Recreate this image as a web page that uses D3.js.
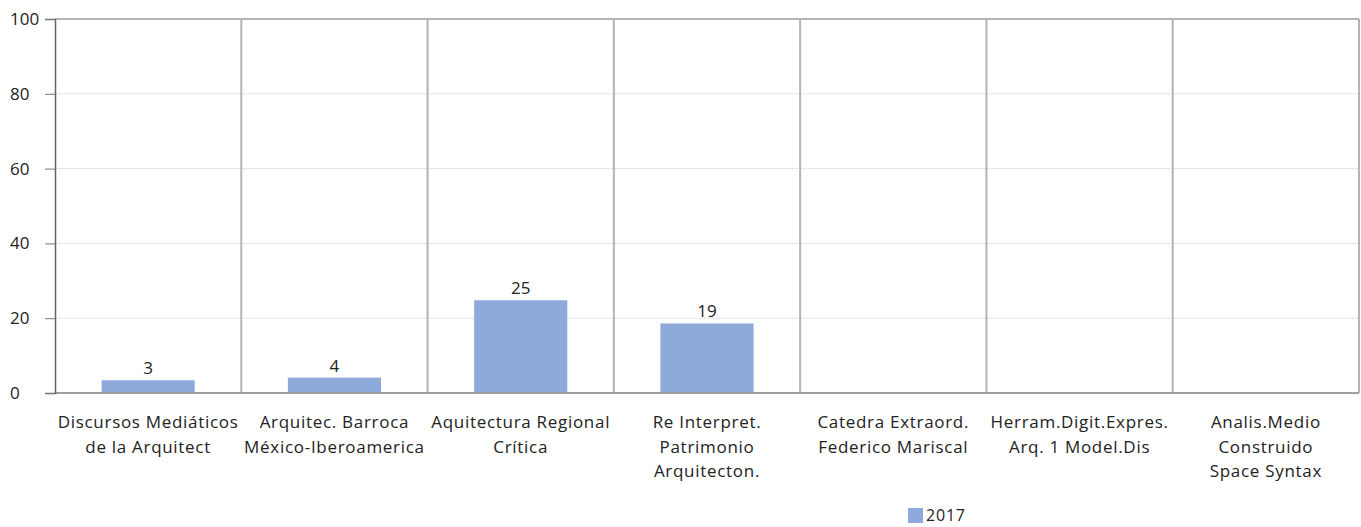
<!DOCTYPE html>
<html><head><meta charset="utf-8">
<script src="https://cdn.jsdelivr.net/npm/d3@7"></script>
<style>body{margin:0;background:#fff}svg{display:block}text{font-family:"Open Sans",sans-serif;fill:#222}</style>
</head><body>
<svg id="c" width="1361" height="527"></svg>
<script>
const categories = [
  ["Discursos Mediáticos","de la Arquitect"],
  ["Arquitec. Barroca","México-Iberoamerica"],
  ["Aquitectura Regional","Crítica"],
  ["Re Interpret.","Patrimonio","Arquitecton."],
  ["Catedra Extraord.","Federico Mariscal"],
  ["Herram.Digit.Expres.","Arq. 1 Model.Dis"],
  ["Analis.Medio","Construido","Space Syntax"]
];
const values2017 = [3.4, 4.1, 24.8, 18.6, 0, 0, 0];
const valueLabels = ["3","4","25","19","","",""];
const yTicks = [0,20,40,60,80,100];
const seriesName = "2017";

const svg = d3.select("#c");
const m = {l:55, r:1359, t:19, b:393};
const keys = categories.map((d,i)=>i);
const x = d3.scaleBand().domain(keys).range([m.l,m.r]).paddingInner(0).paddingOuter(0);
const y = d3.scaleLinear().domain([0,100]).range([m.b,m.t]);
const color = "#8eaadb";

// horizontal gridlines
svg.append("g").selectAll("line").data(yTicks.filter(t=>t>0 && t<100)).join("line")
  .attr("x1",m.l).attr("x2",m.r).attr("y1",d=>y(d)).attr("y2",d=>y(d))
  .attr("stroke","#dcdcdc").attr("stroke-width",1).attr("stroke-dasharray","3,1");

// vertical dividers
svg.append("g").selectAll("line").data(keys.slice(1)).join("line")
  .attr("x1",d=>x(d)).attr("x2",d=>x(d)).attr("y1",m.t).attr("y2",m.b)
  .attr("stroke","#b4b4b4").attr("stroke-width",2);

// border top & right
svg.append("line").attr("x1",m.l).attr("x2",m.r).attr("y1",m.t).attr("y2",m.t).attr("stroke","#b4b4b4").attr("stroke-width",2);
svg.append("line").attr("x1",m.r).attr("x2",m.r).attr("y1",m.t).attr("y2",m.b).attr("stroke","#b4b4b4").attr("stroke-width",2);

// bars
const bw = x.bandwidth()*0.5;
svg.append("g").selectAll("rect").data(values2017.map((v,i)=>({v,i}))).join("rect")
  .attr("x",d=>x(d.i)+x.bandwidth()/2-bw/2).attr("width",bw)
  .attr("y",d=>y(d.v)).attr("height",d=>y(0)-y(d.v)).attr("fill",color);

// value labels
svg.append("g").selectAll("text").data(values2017.map((v,i)=>({v,i,l:valueLabels[i]}))).join("text")
  .attr("x",d=>x(d.i)+x.bandwidth()/2).attr("y",d=>y(d.v)-6)
  .attr("text-anchor","middle").attr("font-size",17).text(d=>d.l);

// bottom axis line
svg.append("line").attr("x1",m.l).attr("x2",m.r).attr("y1",m.b).attr("y2",m.b).attr("stroke","#a0a0a0").attr("stroke-width",2);

// y axis
const ya = svg.append("g").attr("transform",`translate(${m.l},0)`)
  .call(d3.axisLeft(y).tickValues(yTicks).tickSize(10).tickPadding(14).tickFormat(d3.format("d")));
ya.select(".domain").attr("stroke","#666").attr("stroke-width",1.5);
ya.selectAll(".tick line").attr("stroke","#777");
ya.selectAll(".tick text").attr("font-size",17).attr("fill","#222")
  .attr("text-anchor","start").attr("x",-45).style("font-family","'Open Sans',sans-serif");

// category labels
const cl = svg.append("g").selectAll("text").data(categories.map((c,i)=>({c,i}))).join("text")
  .attr("x",d=>x(d.i)+x.bandwidth()/2).attr("y",428).attr("text-anchor","middle")
  .attr("font-size",17).attr("letter-spacing",0.7);
cl.each(function(d){
  d3.select(this).selectAll("tspan").data(d.c).join("tspan")
    .attr("x",x(d.i)+x.bandwidth()/2).attr("dy",(t,j)=>j===0?0:24.5).text(t=>t);
});

// legend
svg.append("rect").attr("x",908).attr("y",508).attr("width",15).attr("height",15).attr("fill",color);
svg.append("text").attr("x",926).attr("y",521).attr("font-size",16).attr("letter-spacing",0.8).text(seriesName);
</script>
</body></html>
